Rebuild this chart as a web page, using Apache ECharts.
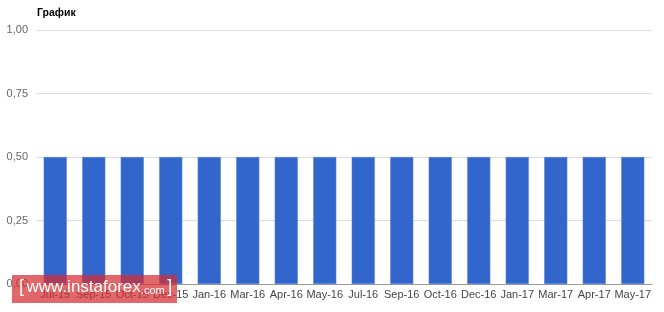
<!DOCTYPE html>
<html><head><meta charset="utf-8">
<script src="https://cdn.jsdelivr.net/npm/echarts@6/dist/echarts.min.js"></script>
<style>html,body{margin:0;padding:0;background:#fff}#c{width:664px;height:312px}</style>
</head><body><div id="c"></div>
<script>
var categories = ['Jul-15','Sep-15','Oct-15','Dec-15','Jan-16','Mar-16','Apr-16','May-16','Jul-16','Sep-16','Oct-16','Dec-16','Jan-17','Mar-17','Apr-17','May-17'];
var values = [0.5,0.5,0.5,0.5,0.5,0.5,0.5,0.5,0.5,0.5,0.5,0.5,0.5,0.5,0.5,0.5];
var yTicks = [0, 0.25, 0.5, 0.75, 1];
var titleText = 'График';

var chart = echarts.init(document.getElementById('c'));
var font = '"Liberation Sans", Arial, sans-serif';
chart.setOption({
  animation: false,
  title: {text: titleText, left: 37, top: 8, padding: 0, textStyle: {fontFamily: font, fontSize: 10.5, fontWeight: 'bold', color: '#000'}},
  grid: {left: 36, right: 12, top: 30, bottom: 28},
  xAxis: {
    type: 'category', data: categories,
    axisLine: {lineStyle: {color: '#999', width: 1}},
    axisTick: {show: false},
    axisLabel: {interval: 0, fontFamily: font, fontSize: 11, color: '#444', margin: 5}
  },
  yAxis: {
    type: 'value', min: yTicks[0], max: yTicks[yTicks.length-1], interval: 0.25,
    axisLine: {show: false}, axisTick: {show: false},
    splitLine: {lineStyle: {color: '#ddd'}},
    axisLabel: {fontFamily: font, fontSize: 11, color: '#666', margin: 8,
      formatter: function(v){ return v.toFixed(2).replace('.', ','); }}
  },
  series: [{
    type: 'bar', data: values, barWidth: '60%',
    itemStyle: {color: '#3366cc', borderColor: '#5a84d8', borderWidth: 0.5}
  }],
  graphic: [
    {type: 'rect', z: 100, zlevel: 1, left: 12, top: 275, shape: {x: 0, y: 0, width: 165, height: 28}, style: {fill: 'rgba(215,45,50,0.72)'}},
    {type: 'text', z: 101, zlevel: 1, left: 19, top: 278, style: {
      text: '{b|[}{s| }{w|www.instaforex}{c|.com}{s| }{b|]}',
      fill: '#fff',
      rich: {
        b: {fontFamily: font, fontSize: 18, fill: '#fff', color: '#fff', lineHeight: 22, verticalAlign: 'bottom'},
        s: {fontFamily: font, fontSize: 9, fill: '#fff', color: '#fff', lineHeight: 22, verticalAlign: 'bottom'},
        w: {fontFamily: font, fontSize: 17, fill: '#fff', color: '#fff', lineHeight: 22, verticalAlign: 'bottom'},
        c: {fontFamily: font, fontSize: 11, fill: '#fff', color: '#fff', lineHeight: 19, verticalAlign: 'bottom'}
      }
    }}
  ]
});
</script></body></html>
